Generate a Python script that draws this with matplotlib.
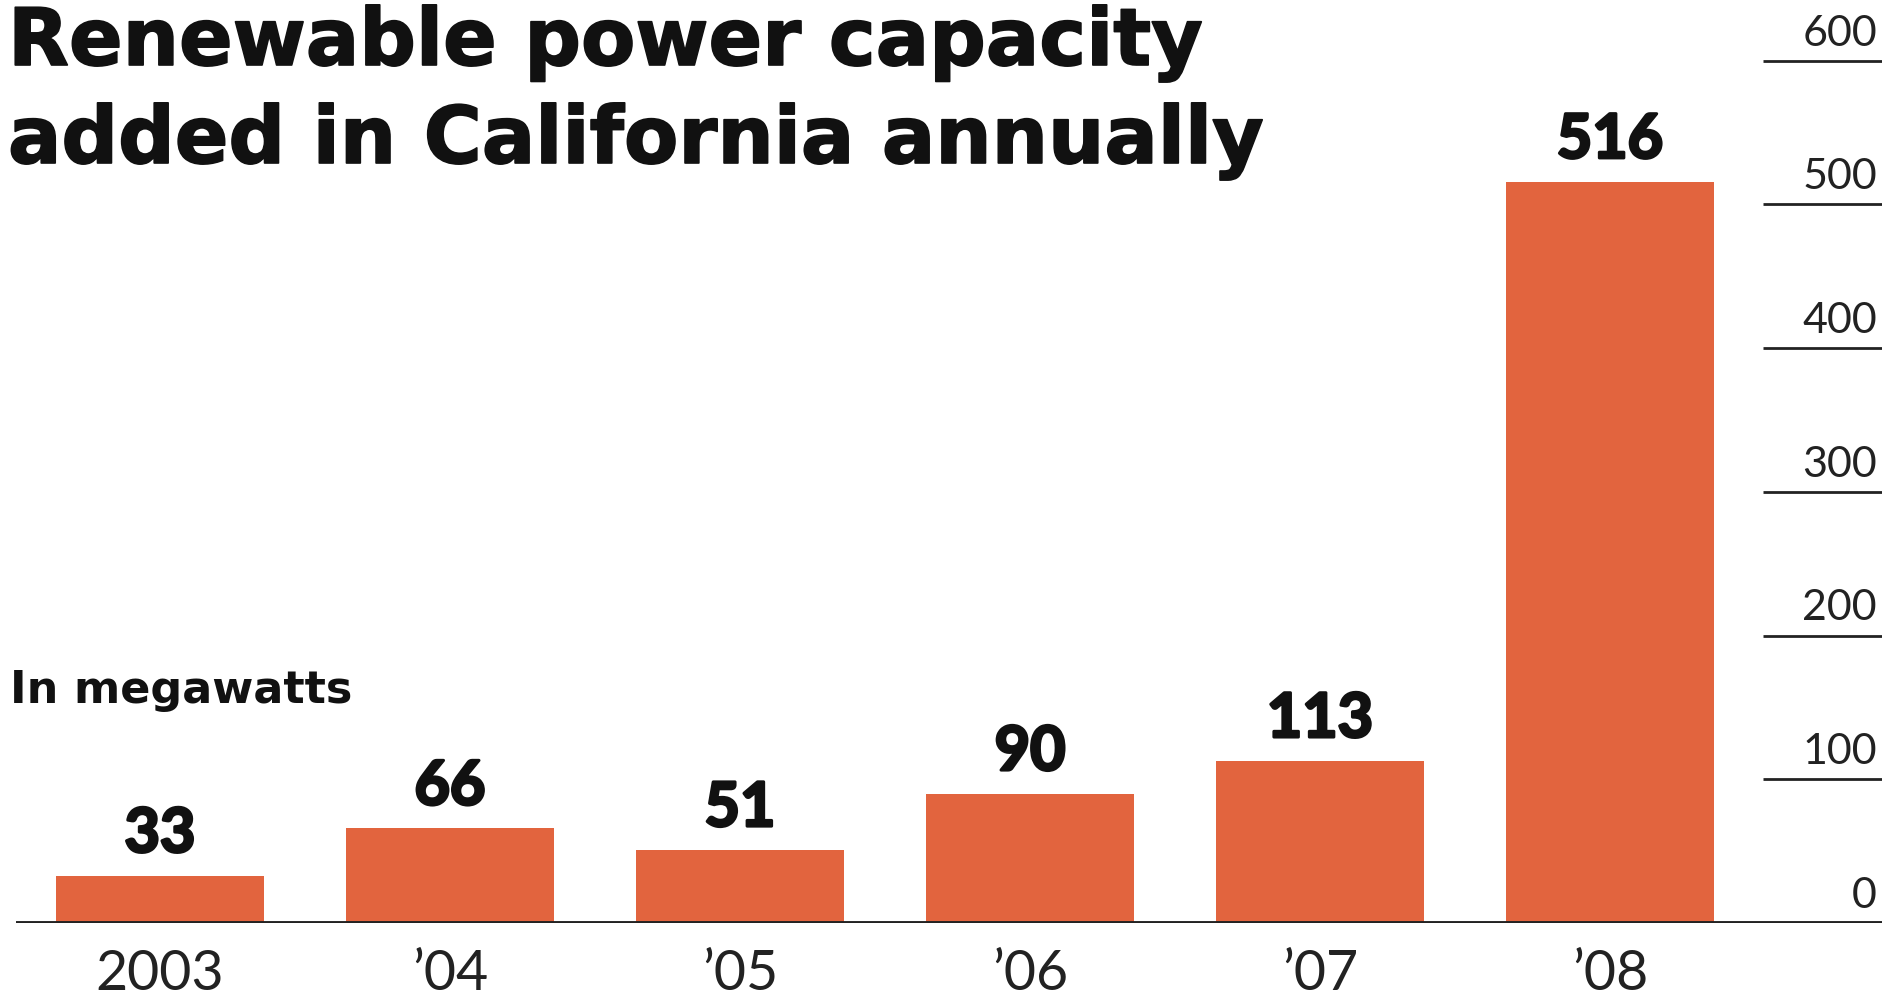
import matplotlib
matplotlib.use("Agg")
from matplotlib import pyplot as plt
from matplotlib import transforms
import matplotlib.patheffects as pe

# data
years = ["2003", "\u201904", "\u201905", "\u201906", "\u201907", "\u201908"]
megawatts = [33, 66, 51, 90, 113, 516]
y_ticks = [0, 100, 200, 300, 400, 500, 600]

BAR_COLOR = "#E2643E"
INK = "#111111"
FONT = "Lato"
HEAVY = "DejaVu Sans"

W, H = 1895, 994
fig = plt.figure(figsize=(W / 100, H / 100), dpi=100)
fig.patch.set_facecolor("white")

# axes placed in pixel terms: baseline at y=923, runs x=16..1882
left, right = 16, 1882
base = 923
px_per_unit = 1.437
ymax = 640
ax = fig.add_axes([left / W, (H - base) / H, (right - left) / W, ymax * px_per_unit / H])
ax.set_xlim(-144 / 290, (right - left - 144) / 290)
ax.set_ylim(0, ymax)
ax.axis("off")

x = range(len(years))
ax.bar(x, megawatts, width=0.714, color=BAR_COLOR, zorder=2)

# baseline
ax.axhline(0, color="#222222", lw=2.8, zorder=3)

# short gridlines on the right with labels sitting above them
blend = transforms.blended_transform_factory(ax.transAxes, ax.transData)
for t in y_ticks[1:]:
    ax.hlines(t, (1763 - left) / (right - left), 1.0, transform=blend,
              color="#222222", lw=2.0)
for t in y_ticks:
    ax.annotate(str(t), xy=((1877 - left) / (right - left), t), xycoords=blend,
                xytext=(0, 11), textcoords="offset points",
                ha="right", va="baseline", fontsize=31, family=FONT,
                color="#222222")

# value labels on the bars, thickened a little to look heavier
heavy = [pe.withStroke(linewidth=2.2, foreground=INK)]
for i, v in zip(x, megawatts):
    ax.annotate(str(v), xy=(i, v), xytext=(0, 17), textcoords="offset points",
                ha="center", va="baseline", fontsize=44, family=FONT,
                fontweight="bold", color=INK, path_effects=heavy)

# year labels below the baseline
for i, lab in zip(x, years):
    ax.annotate(lab, xy=(i, 0), xytext=(0, -48), textcoords="offset points",
                ha="center", va="baseline", fontsize=40, family=FONT,
                color="#222222")

# title and unit note
title_fx = [pe.withStroke(linewidth=1.2, foreground=INK)]
fig.text(8 / W, 1 - 65 / H, "Renewable power capacity", ha="left", va="baseline",
         fontsize=57, family=HEAVY, fontweight="bold", color=INK, path_effects=title_fx)
fig.text(8 / W, 1 - 163 / H, "added in California annually", ha="left", va="baseline",
         fontsize=57, family=HEAVY, fontweight="bold", color=INK, path_effects=title_fx)
fig.text(10 / W, 1 - 703 / H, "In megawatts", ha="left", va="baseline",
         fontsize=32, family=HEAVY, fontweight="bold", color=INK)

fig.savefig("out.png", dpi=100, facecolor="white")
